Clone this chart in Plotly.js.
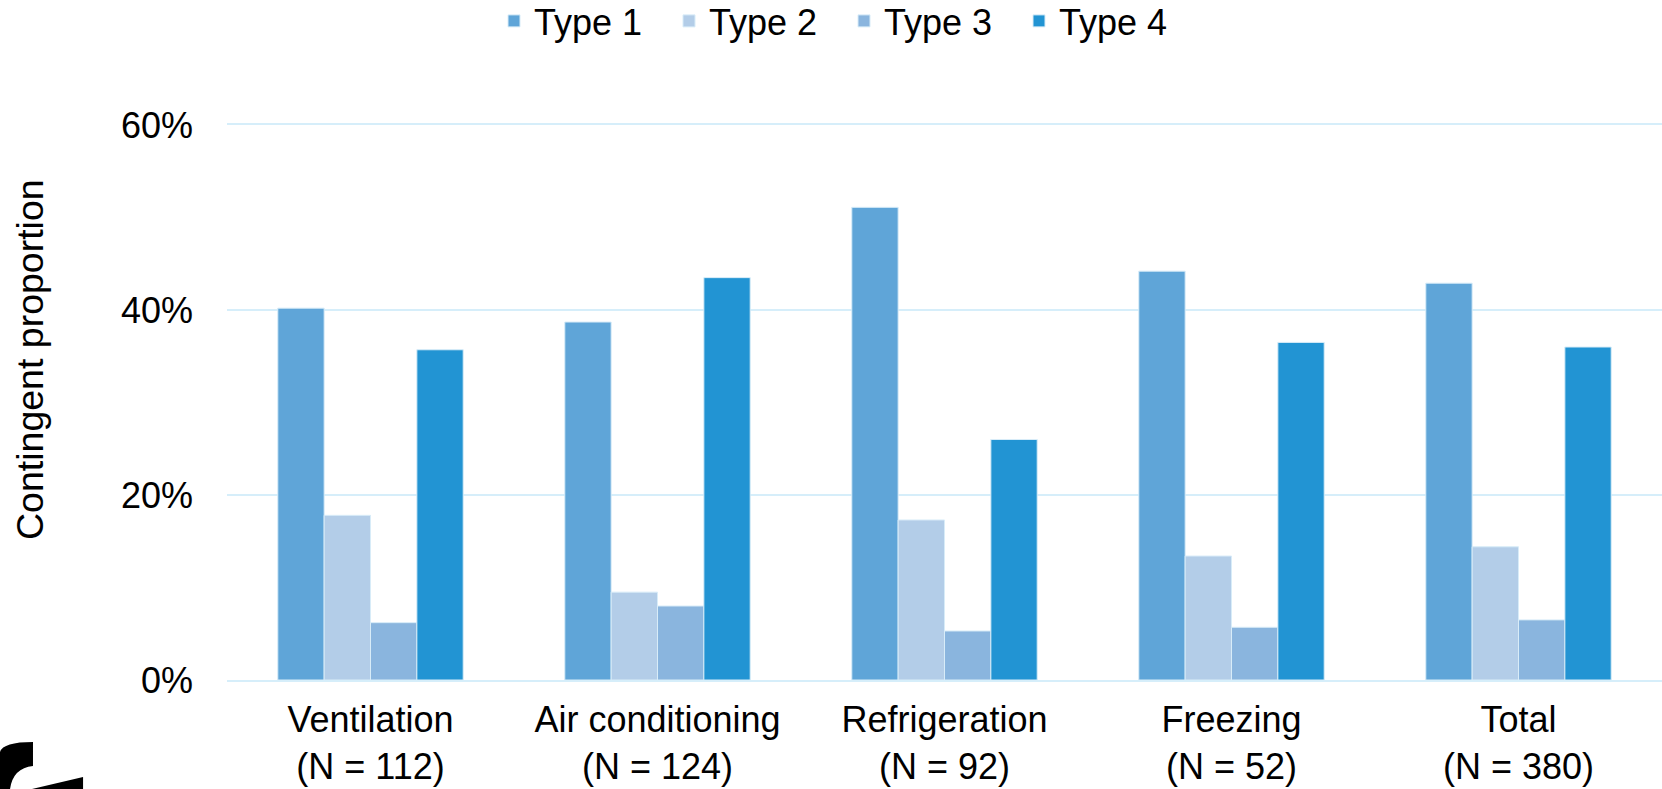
<!DOCTYPE html>
<html>
<head>
<meta charset="utf-8">
<script src="https://cdn.plot.ly/plotly-3.0.1.min.js"></script>
<style>
  html, body { margin: 0; padding: 0; background: #ffffff; }
  #chart { width: 1662px; height: 789px; }
</style>
</head>
<body>
<div id="chart"></div>
<script>
// ---- data ----
const categories = [
  "Ventilation<br>(N = 112)",
  "Air conditioning<br>(N = 124)",
  "Refrigeration<br>(N = 92)",
  "Freezing<br>(N = 52)",
  "Total<br>(N = 380)"
];
const seriesNames = ["Type 1", "Type 2", "Type 3", "Type 4"];
const type1 = [0.402, 0.387, 0.511, 0.442, 0.429];
const type2 = [0.178, 0.095, 0.173, 0.134, 0.144];
const type3 = [0.062, 0.080, 0.053, 0.057, 0.065];
const type4 = [0.357, 0.435, 0.260, 0.365, 0.360];
const yTickVals = [0, 0.2, 0.4, 0.6];
const yTickText = ["0%", "20%", "40%", "60%"];
const yAxisTitle = "Contingent proportion";

// ---- style ----
const colors = ["#5fa5d8", "#b3cde8", "#8ab5de", "#2294d3"];
const gridColor = "#d6eefa";
const font = "Liberation Sans, Arial, Helvetica, sans-serif";
const allSeries = [type1, type2, type3, type4];

const traces = allSeries.map((vals, i) => ({
  type: "bar",
  name: seriesNames[i],
  x: categories,
  y: vals,
  marker: { color: colors[i], line: { color: "#d8ecf8", width: 1 } },
  hoverinfo: "x+y+name"
}));

// layout geometry (pixels)
const L = 227, R = 0, T = 125, B = 109, W = 1662, H = 789;
const pw = W - L - R, ph = H - T - B;
const px = v => ((v - L) / pw).toFixed(4);
const py = v => ((H - B - v) / ph).toFixed(4);

const layout = {
  width: W,
  height: H,
  margin: { l: L, r: R, t: T, b: B, pad: 0 },
  paper_bgcolor: "#ffffff",
  plot_bgcolor: "#ffffff",
  font: { family: font, size: 36, color: "#000000" },
  barmode: "group",
  bargap: 0.354,
  bargroupgap: 0,
  showlegend: true,
  legend: {
    orientation: "h",
    xref: "paper",
    x: (494 - L) / pw,
    xanchor: "left",
    yref: "container",
    y: 1 - 21 / H,
    yanchor: "middle",
    entrywidth: 130,
    entrywidthmode: "pixels",
    font: { family: font, size: 36, color: "#000000" },
    bgcolor: "rgba(0,0,0,0)",
    traceorder: "normal"
  },
  xaxis: {
    type: "category",
    showgrid: false,
    zeroline: false,
    showline: true,
    mirror: true,
    linecolor: gridColor,
    linewidth: 2,
    ticks: "",
    ticklabelstandoff: 7,
    automargin: false,
    tickfont: { family: font, size: 36, color: "#000000" }
  },
  yaxis: {
    range: [0, 0.6],
    tickvals: yTickVals,
    ticktext: yTickText,
    showgrid: true,
    gridcolor: gridColor,
    gridwidth: 2,
    zeroline: false,
    showline: false,
    ticks: "",
    ticklabelstandoff: 33,
    automargin: false,
    tickfont: { family: font, size: 36, color: "#000000" }
  },
  annotations: [{
    text: yAxisTitle,
    xref: "paper", yref: "paper",
    x: (30 - L) / pw, y: (H - B - 360) / ph,
    xanchor: "center", yanchor: "middle",
    textangle: -90,
    showarrow: false,
    font: { family: font, size: 37.5, color: "#000000" }
  }],
  shapes: [
    {
      type: "path", xref: "paper", yref: "paper",
      path: `M ${px(0)},${py(752)} Q ${px(3)},${py(742)} ${px(33)},${py(742)} L ${px(33)},${py(766)} Q ${px(13)},${py(768)} ${px(10)},${py(789)} L ${px(0)},${py(789)} Z`,
      fillcolor: "#000000", line: { width: 0 }
    },
    {
      type: "path", xref: "paper", yref: "paper",
      path: `M ${px(32)},${py(789)} L ${px(83)},${py(777)} L ${px(83)},${py(789)} Z`,
      fillcolor: "#000000", line: { width: 0 }
    }
  ]
};

Plotly.newPlot("chart", traces, layout, { displayModeBar: false, staticPlot: true });
</script>
</body>
</html>
